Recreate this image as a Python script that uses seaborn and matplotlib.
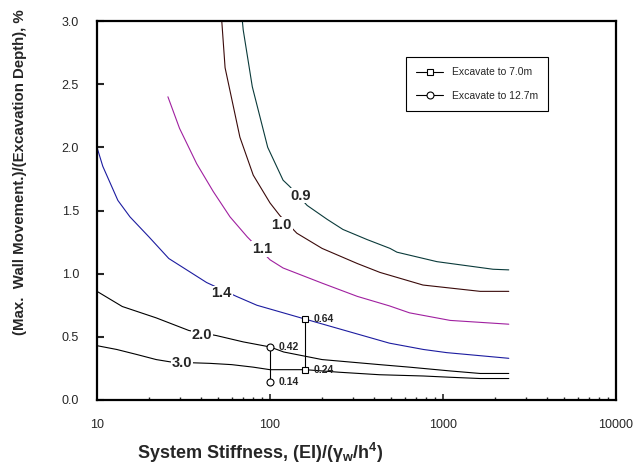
import matplotlib.pyplot as plt
import pandas as pd
import seaborn as sns

# contour curves of (max wall movement)/(excavation depth)
STIFF_09 = [69, 70, 79, 97, 119, 130, 164, 214, 264, 364, 494, 542, 923, 1945, 2400]
MOVE_09 = [3.02, 2.93, 2.48, 2.00, 1.74, 1.69, 1.54, 1.43, 1.35, 1.27, 1.20, 1.17, 1.095, 1.035, 1.03]

STIFF_10 = [52.5, 55, 67, 80, 100, 114, 143, 200, 320, 432, 766, 1640, 2400]
MOVE_10 = [3.02, 2.63, 2.08, 1.78, 1.56, 1.46, 1.32, 1.20, 1.08, 1.01, 0.91, 0.86, 0.86]

STIFF_11 = [25.7, 30, 37.7, 47, 58.7, 74, 100, 119, 200, 320, 490, 640, 1100, 2400]
MOVE_11 = [2.40, 2.15, 1.87, 1.65, 1.45, 1.29, 1.11, 1.045, 0.925, 0.82, 0.745, 0.69, 0.63, 0.60]

STIFF_14 = [10, 10.8, 13.2, 15.5, 20, 26, 33, 43, 64, 84, 160, 490, 770, 1050, 2400]
MOVE_14 = [2.00, 1.85, 1.58, 1.45, 1.29, 1.12, 1.03, 0.93, 0.82, 0.75, 0.64, 0.45, 0.40, 0.375, 0.33]

STIFF_20 = [10, 14, 22, 34, 49, 70, 100, 120, 200, 430, 640, 1100, 1640, 2400]
MOVE_20 = [0.86, 0.74, 0.65, 0.55, 0.51, 0.46, 0.42, 0.38, 0.32, 0.28, 0.26, 0.23, 0.21, 0.21]

STIFF_30 = [10, 13, 17, 22, 27, 45, 60, 80, 100, 160, 250, 430, 770, 1100, 1640, 2400]
MOVE_30 = [0.43, 0.40, 0.36, 0.32, 0.30, 0.29, 0.28, 0.26, 0.24, 0.24, 0.22, 0.20, 0.19, 0.18, 0.17, 0.17]

CURVE_NAMES = ["0.9", "1.0", "1.1", "1.4", "2.0", "3.0"]
CURVE_COLORS = ["#0a3a3a", "#3a0a0a", "#a020a0", "#1c1ca0", "black", "black"]
# label anchor points (stiffness, ratio)
LABEL_X = [150, 117, 89.6, 52.6, 40.3, 30.9]
LABEL_Y = [1.618, 1.385, 1.195, 0.845, 0.515, 0.29]

# measured points
STIFF_7M = [160, 160]
MOVE_7M = [0.24, 0.64]
STIFF_127M = [100, 100]
MOVE_127M = [0.14, 0.42]


def build_frame() -> pd.DataFrame:
    parts = []
    pairs = [(STIFF_09, MOVE_09), (STIFF_10, MOVE_10), (STIFF_11, MOVE_11),
             (STIFF_14, MOVE_14), (STIFF_20, MOVE_20), (STIFF_30, MOVE_30)]
    for name, (xs, ys) in zip(CURVE_NAMES, pairs):
        parts.append(pd.DataFrame({"stiffness": xs, "ratio": ys, "curve": name}))
    return pd.concat(parts, ignore_index=True)


def main() -> None:
    sns.set_theme(style="white")
    plt.rcParams.update({
        "font.family": ["Liberation Sans", "DejaVu Sans"],
        "mathtext.fontset": "custom",
        "mathtext.rm": "Liberation Sans:bold",
        "mathtext.it": "Liberation Sans:bold",
        "mathtext.bf": "Liberation Sans:bold",
    })

    df = build_frame()
    fig = plt.figure(figsize=(6.44, 4.66), dpi=100)
    ax = fig.add_axes([97 / 644, 66 / 466, 519 / 644, 379 / 466])

    for name, color in zip(CURVE_NAMES, CURVE_COLORS):
        sns.lineplot(data=df[df["curve"] == name], x="stiffness", y="ratio",
                     estimator=None, sort=False, color=color, linewidth=0.8,
                     legend=False, ax=ax)

    for name, lx, ly in zip(CURVE_NAMES, LABEL_X, LABEL_Y):
        ax.text(lx, ly, name, ha="center", va="center", fontsize=10.5,
                fontweight="bold", zorder=5,
                bbox=dict(facecolor="white", edgecolor="none", pad=0.5))

    sns.lineplot(x=STIFF_7M, y=MOVE_7M, estimator=None, sort=False,
                 color="black", linewidth=0.8, marker="s", markersize=5,
                 markerfacecolor="white", markeredgecolor="black",
                 markeredgewidth=0.8, label="Excavate to 7.0m", ax=ax)
    sns.lineplot(x=STIFF_127M, y=MOVE_127M, estimator=None, sort=False,
                 color="black", linewidth=0.8, marker="o", markersize=5,
                 markerfacecolor="white", markeredgecolor="black",
                 markeredgewidth=0.8, label="Excavate to 12.7m", ax=ax)

    for xs, ys in ((STIFF_7M, MOVE_7M), (STIFF_127M, MOVE_127M)):
        for x, y in zip(xs, ys):
            ax.annotate(f"{y:.2f}", (x, y), xytext=(6, 0), textcoords="offset points",
                        ha="left", va="center", fontsize=7.5, fontweight="bold")

    ax.set_xscale("log")
    ax.set_xlim(10, 10000)
    ax.set_ylim(0, 3.0)
    ax.set_yticks([0, 0.5, 1.0, 1.5, 2.0, 2.5, 3.0])
    ax.set_yticklabels([f"{v:.1f}" for v in [0, 0.5, 1.0, 1.5, 2.0, 2.5, 3.0]])
    ax.set_xticks([10, 100, 1000, 10000])
    ax.set_xticklabels(["10", "100", "1000", "10000"])

    ax.tick_params(axis="x", which="major", direction="in", length=4, width=1.2,
                   labelsize=9, pad=14, bottom=True)
    ax.tick_params(axis="x", which="minor", direction="in", length=2.5, width=1.0,
                   bottom=True)
    ax.tick_params(axis="y", which="major", direction="in", length=5, width=1.5,
                   labelsize=9, pad=13, left=True)
    for side in ("left", "bottom", "right", "top"):
        ax.spines[side].set_linewidth(1.6)
        ax.spines[side].set_color("black")

    ax.set_xlabel(r"System Stiffness, (EI)/($\gamma_\mathrm{w}$/h$^\mathrm{4}$)",
                  fontsize=13, fontweight="bold")
    ax.xaxis.set_label_coords(0.314, -0.108)
    ax.set_ylabel("(Max.  Wall Movement.)/(Excavation Depth), %",
                  fontsize=10.8, fontweight="bold", ha="left")
    ax.yaxis.set_label_coords(-0.135, 0.172)

    ax.legend(loc="upper left", bbox_to_anchor=(0.595, 0.905), fontsize=7.5,
              frameon=True, fancybox=False, edgecolor="black", framealpha=1,
              handlelength=2.6, labelspacing=1.3, borderpad=1.0,
              handletextpad=0.8, borderaxespad=0)
    ax.get_legend().get_frame().set_linewidth(0.8)

    fig.savefig("out.png", dpi=100, facecolor="white")


if __name__ == "__main__":
    main()
